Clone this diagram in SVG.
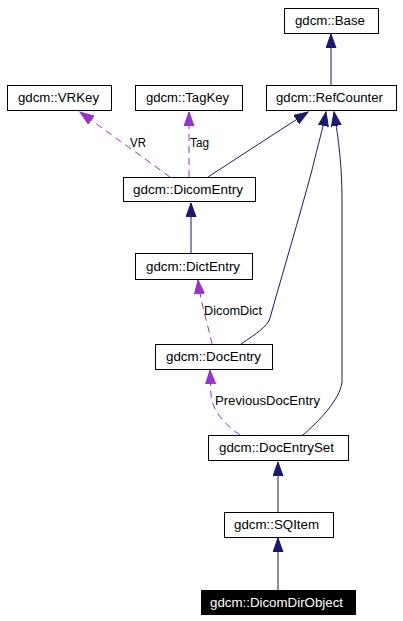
<svg xmlns="http://www.w3.org/2000/svg" width="403" height="621" viewBox="0 0 403 621">
<style>
.box{fill:#fff;stroke:#000;stroke-width:1}
.t{font-family:"Liberation Sans",Arial,sans-serif;font-size:12px;fill:#000}
.inh{fill:none;stroke:#191970;stroke-width:1}
.use{fill:none;stroke:#9a32cd;stroke-width:1;stroke-dasharray:7,5}
</style>
<defs>
<marker id="ah" markerUnits="userSpaceOnUse" markerWidth="15" markerHeight="11" refX="14" refY="5.5" orient="auto"><path d="M0,0.5 L14,5.5 L0,10.5 z" fill="#191970" stroke="#191970"/></marker>
<marker id="ap" markerUnits="userSpaceOnUse" markerWidth="15" markerHeight="11" refX="14" refY="5.5" orient="auto"><path d="M0,0.5 L14,5.5 L0,10.5 z" fill="#9a32cd" stroke="#9a32cd"/></marker>
</defs>
<rect width="403" height="621" fill="#fff"/>
<g id="edges">
<path class="inh" d="M331,85 L331,34" marker-end="url(#ah)"/>
<path class="inh" d="M208,177 L308,112" marker-end="url(#ah)"/>
<path class="inh" d="M241,344 C256,334 268,326 270,318 C282,275 300,215 312,170 C318,145 323,128 326,112" marker-end="url(#ah)"/>
<path class="inh" d="M303,435 C318,422 340,400 342,382 L342,200 C342,160 337,130 334,112" marker-end="url(#ah)"/>
<path class="use" d="M170,177 L80,112" marker-end="url(#ap)"/>
<path class="use" d="M189,177 L189,112" marker-end="url(#ap)"/>
<path class="inh" d="M191,253 L191,203" marker-end="url(#ah)"/>
<path class="use" d="M212,344 C208,325 200,300 198,280" marker-end="url(#ap)"/>
<path class="use" d="M240,435 C225,425 212,410 211,395 L210,370" marker-end="url(#ap)"/>
<path class="inh" d="M278,512 L278,462" marker-end="url(#ah)"/>
<path class="inh" d="M278,590 L278,538" marker-end="url(#ah)"/>
<text class="t" x="130" y="147" textLength="16" lengthAdjust="spacingAndGlyphs">VR</text>
<text class="t" x="190" y="147" textLength="19" lengthAdjust="spacingAndGlyphs">Tag</text>
<text class="t" x="204" y="315" textLength="58" lengthAdjust="spacingAndGlyphs">DicomDict</text>
<text class="t" x="215" y="405" textLength="105" lengthAdjust="spacingAndGlyphs">PreviousDocEntry</text>
</g>
<g id="Base"><rect class="box" x="284.5" y="8.5" width="94" height="25"/><text class="t" x="295" y="25" textLength="70" lengthAdjust="spacingAndGlyphs">gdcm::Base</text></g>
<g id="VRKey"><rect class="box" x="7.5" y="85.5" width="104" height="25"/><text class="t" x="18" y="102" textLength="81" lengthAdjust="spacingAndGlyphs">gdcm::VRKey</text></g>
<g id="TagKey"><rect class="box" x="135.5" y="85.5" width="107" height="25"/><text class="t" x="146" y="102" textLength="83" lengthAdjust="spacingAndGlyphs">gdcm::TagKey</text></g>
<g id="RefCounter"><rect class="box" x="266.5" y="85.5" width="130" height="25"/><text class="t" x="276" y="102" textLength="107" lengthAdjust="spacingAndGlyphs">gdcm::RefCounter</text></g>
<g id="DicomEntry"><rect class="box" x="123.5" y="177.5" width="132" height="24"/><text class="t" x="133" y="194" textLength="110" lengthAdjust="spacingAndGlyphs">gdcm::DicomEntry</text></g>
<g id="DictEntry"><rect class="box" x="135.5" y="253.5" width="117" height="26"/><text class="t" x="146" y="271" textLength="94" lengthAdjust="spacingAndGlyphs">gdcm::DictEntry</text></g>
<g id="DocEntry"><rect class="box" x="155.5" y="344.5" width="117" height="25"/><text class="t" x="166" y="361" textLength="95" lengthAdjust="spacingAndGlyphs">gdcm::DocEntry</text></g>
<g id="DocEntrySet"><rect class="box" x="208.5" y="435.5" width="140" height="25"/><text class="t" x="219" y="452" textLength="115" lengthAdjust="spacingAndGlyphs">gdcm::DocEntrySet</text></g>
<g id="SQItem"><rect class="box" x="224.5" y="512.5" width="109" height="25"/><text class="t" x="234" y="529" textLength="85" lengthAdjust="spacingAndGlyphs">gdcm::SQItem</text></g>
<g id="DicomDirObject"><rect x="201" y="590" width="155" height="25" fill="#000"/><text class="t" x="210" y="607" textLength="133" lengthAdjust="spacingAndGlyphs" style="fill:#fff">gdcm::DicomDirObject</text></g>
</svg>
